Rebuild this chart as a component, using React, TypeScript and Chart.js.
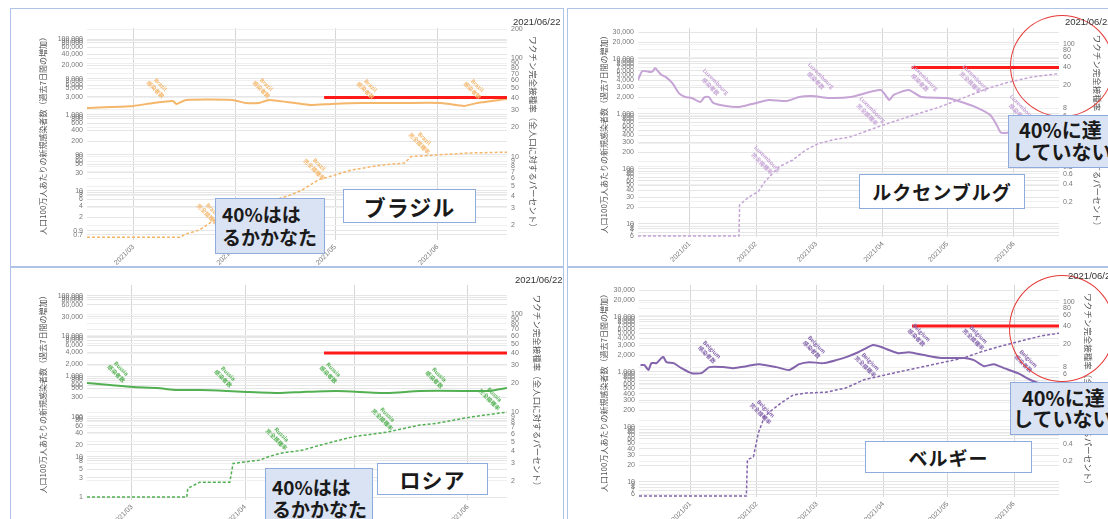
import React, { useEffect, useRef } from 'react';
import { Chart, registerables } from 'chart.js';
Chart.register(...registerables);

// ---- shared axis data (days counted from 2020-12-01) ----
const MONTH_DAYS = [31, 62, 90, 121, 151, 182];
const MONTH_LABELS = ['2021/01', '2021/02', '2021/03', '2021/04', '2021/05', '2021/06'];
const LEFT_TITLE = '人口100万人あたりの新規感染者数（過去7日間の増加）';
const RIGHT_TITLE = 'ワクチン完全接種率（全人口に対するパーセント）';
const DATE_TEXT = '2021/06/22';
const LABEL_KINDS = ['感染者数', '完全接種率'];
const TARGET_PCT = 40;

// ---- Brazil ----
const brazilCaseDays = [76, 90, 96, 102, 103, 106, 120, 124, 128, 131, 141, 144, 150, 159, 171, 183, 190, 194, 203];
const brazilCaseValues = [1530, 1730, 2070, 2330, 1950, 2480, 2480, 2070, 2070, 2480, 1950, 1830, 1950, 2070, 2070, 2070, 1730, 2070, 2630];
const brazilVaxDays = [76, 104, 106, 110, 114, 120, 130, 137, 141, 146, 149, 156, 165, 172, 174, 182, 192, 203];
const brazilVaxValues = [1.5, 1.5, 1.63, 1.78, 2.2, 2.8, 3.4, 4.0, 4.55, 5.8, 6.2, 7.3, 8.2, 8.6, 10.0, 10.4, 10.9, 11.1];
const brazilLeftTicks = [100000, 90000, 80000, 60000, 40000, 20000, 9000, 8000, 6000, 5000, 3000, 1000, 900, 800, 600, 400, 200, 90, 80, 60, 50, 30, 10, 9, 8, 6, 4, 2, 0.9, 0.7];
const brazilRightTicks = [200, 100, 90, 80, 70, 60, 50, 40, 30, 20, 10, 9, 8, 7, 6, 5, 4, 3, 2];
const brazilLabelDays = [97.5, 129.5, 161, 193.3, 113.2, 145.5, 177.3];
const brazilLabelValues = [5460, 5460, 5140, 5140, 2.8, 42.8, 207];
const brazilLabelKinds = [0, 0, 0, 0, 1, 1, 1];

// ---- Luxembourg ----
const luxCaseDays = [7, 9, 13, 14, 15, 17.5, 20, 23, 26, 29, 32, 36, 38, 40, 42, 48, 54, 60, 68, 76, 82, 88, 96, 106, 120, 124, 126, 133, 139, 151, 159, 165, 171, 174, 176, 181, 190, 203];
const luxCaseValues = [4070, 5940, 5700, 5940, 6730, 5200, 4600, 3590, 2360, 2000, 1920, 1620, 2000, 2000, 1560, 1370, 1320, 1490, 1760, 1690, 2000, 2080, 1920, 2000, 2680, 1760, 2180, 2680, 2000, 1920, 1560, 1270, 940, 620, 450, 450, 400, 360];
const luxVaxDays = [7, 54, 54.3, 56, 58.5, 63, 66, 72.5, 79, 85, 91, 97.6, 106, 120, 135, 147, 159, 170, 179, 190, 203];
const luxVaxValues = [0.052, 0.052, 0.178, 0.2, 0.24, 0.3, 0.44, 0.79, 1.04, 1.54, 2.0, 2.3, 2.6, 4.0, 6.1, 8.3, 12.3, 17.6, 22.2, 27.3, 31.6];
const luxLeftTicks = [30000, 20000, 10000, 9000, 8000, 7000, 6000, 5000, 4000, 3000, 2000, 1000, 900, 800, 700, 600, 500, 400, 300, 200, 100, 90, 80, 70, 60, 50, 40, 30, 20, 10, 9, 8, 7, 6];
const luxRightTicks = [100, 80, 60, 40, 20, 8, 6, 4, 2, 1, 0.8, 0.6, 0.4, 0.2];
const luxLabelDays = [42, 91, 139.5, 185, 163, 115, 66];
const luxLabelValues = [3445, 4430, 4080, 1160, 4080, 1067, 137];
const luxLabelKinds = [0, 0, 0, 0, 1, 1, 1];

// ---- Russia ----
const russiaCaseDays = [77.7, 84, 90.3, 96.8, 102.3, 108.6, 116, 121.5, 130.5, 136.8, 146.1, 159.8, 168.9, 184.5, 188, 192.7];
const russiaCaseValues = [683, 608, 542, 517, 458, 458, 434, 410, 386, 410, 434, 386, 434, 434, 434, 513];
const russiaVaxDays = [77.7, 105, 105.3, 108.6, 116.8, 117.7, 125, 127, 130.5, 136.8, 141.5, 150.5, 159.8, 168.9, 173.5, 182.6, 192.7];
const russiaVaxValues = [1.36, 1.36, 1.67, 1.93, 1.93, 3.0, 3.24, 3.47, 3.8, 4.1, 4.6, 5.6, 6.25, 7.4, 7.7, 8.9, 10];
const russiaLeftTicks = [100000, 90000, 80000, 60000, 30000, 10000, 9000, 8000, 6000, 4000, 2000, 1000, 900, 800, 600, 500, 300, 100, 90, 80, 60, 40, 20, 10, 9, 8, 5, 3, 1];
const russiaRightTicks = [200, 100, 90, 80, 70, 60, 50, 40, 30, 20, 10, 9, 8, 7, 6, 5, 4, 3, 2];
const russiaLabelDays = [86.4, 115.7, 144.5, 173.5, 130.3, 159.3, 188.6];
const russiaLabelValues = [1355, 1017, 1280, 960, 31.2, 97.7, 306];
const russiaLabelKinds = [0, 0, 0, 0, 1, 1, 1];

// ---- Belgium ----
const belgiumCaseDays = [7.7, 9.6, 11.4, 12.8, 15.2, 17.5, 18.4, 19.8, 23.1, 26.8, 31.5, 36.1, 39.9, 46.4, 51, 57.1, 63.1, 71.1, 77.1, 81.8, 86.4, 93, 99, 103.7, 109.3, 112.1, 116.3, 120, 127.9, 133, 140, 147.9, 158.7, 163.3, 168, 172.6, 177.3, 183.8, 189.9, 203];
const belgiumCaseValues = [1315, 1315, 1070, 1430, 1430, 1770, 1840, 1490, 1430, 1160, 940, 940, 1210, 1210, 1160, 1260, 1370, 1210, 1070, 1370, 1490, 1430, 1620, 1840, 2250, 2570, 3040, 2800, 2170, 2250, 2000, 1770, 1770, 1620, 1260, 1370, 1160, 940, 700, 460];
const belgiumVaxDays = [7, 57.1, 57.6, 60.4, 62.7, 65.5, 69.2, 73.4, 79, 85, 94.3, 103.7, 112.1, 127.9, 143.3, 158.7, 166.6, 174.5, 183.8, 194.5, 203];
const belgiumVaxValues = [0.052, 0.052, 0.214, 0.24, 0.61, 1.15, 1.51, 1.98, 2.7, 2.9, 3.0, 3.56, 4.9, 6.6, 8.7, 11.5, 14.5, 17.6, 21.5, 27, 30];
const belgiumLeftTicks = [30000, 20000, 10000, 9000, 8000, 7000, 6000, 5000, 4000, 3000, 2000, 1000, 900, 800, 700, 600, 500, 400, 300, 200, 100, 90, 80, 70, 60, 50, 40, 30, 20, 10, 9, 8, 7, 6];
const belgiumRightTicks = [100, 80, 60, 40, 20, 8, 6, 4, 2, 1, 0.8, 0.6, 0.4, 0.2];
const belgiumLabelDays = [39.9, 88.8, 137.7, 187.6, 65, 113.9, 164.3];
const belgiumLabelValues = [2270, 2800, 4620, 1555, 192, 1372, 4260];
const belgiumLabelKinds = [0, 0, 0, 0, 1, 1, 1];

type Panel = {
  name: string;
  left: number; top: number; width: number; height: number;
  padL: number; padR: number; padT: number; wl: number; wr: number; xh: number;
  xMin: number; xMax: number; yMin: number; yMax: number; y1Min: number; y1Max: number;
  leftTicks: number[]; rightTicks: number[];
  color: string;
  caseDays: number[]; caseValues: number[]; vaxDays: number[]; vaxValues: number[];
  redStart: number;
  labelDays: number[]; labelValues: number[]; labelKinds: number[];
};

const PANELS: Panel[] = [
  {
    name: 'Brazil', left: 11, top: 9, width: 551, height: 256,
    padL: 23, padR: 20, padT: 19, wl: 53, wr: 35, xh: 25,
    xMin: 76, xMax: 203, yMin: 0.51, yMax: 195000, y1Min: 1.41, y1Max: 205,
    leftTicks: brazilLeftTicks, rightTicks: brazilRightTicks, color: '#f4b66a',
    caseDays: brazilCaseDays, caseValues: brazilCaseValues, vaxDays: brazilVaxDays, vaxValues: brazilVaxValues,
    redStart: 147.7, labelDays: brazilLabelDays, labelValues: brazilLabelValues, labelKinds: brazilLabelKinds,
  },
  {
    name: 'Luxembourg', left: 569, top: 10, width: 551, height: 256,
    padL: 26, padR: 14, padT: 18, wl: 43, wr: 47, xh: 29,
    xMin: 7, xMax: 203, yMin: 5.7, yMax: 36000, y1Min: 0.05, y1Max: 190,
    leftTicks: luxLeftTicks, rightTicks: luxRightTicks, color: '#c6a4d6',
    caseDays: luxCaseDays, caseValues: luxCaseValues, vaxDays: luxVaxDays, vaxValues: luxVaxValues,
    redStart: 134.4, labelDays: luxLabelDays, labelValues: luxLabelValues, labelKinds: luxLabelKinds,
  },
  {
    name: 'Russia', left: 11, top: 269, width: 551, height: 250,
    padL: 23, padR: 16, padT: 16, wl: 53, wr: 39, xh: 19,
    xMin: 77.7, xMax: 192.7, yMin: 0.85, yMax: 186000, y1Min: 1.27, y1Max: 198,
    leftTicks: russiaLeftTicks, rightTicks: russiaRightTicks, color: '#52b052',
    caseDays: russiaCaseDays, caseValues: russiaCaseValues, vaxDays: russiaVaxDays, vaxValues: russiaVaxValues,
    redStart: 142.6, labelDays: russiaLabelDays, labelValues: russiaLabelValues, labelKinds: russiaLabelKinds,
  },
  {
    name: 'Belgium', left: 569, top: 269, width: 551, height: 250,
    padL: 26, padR: 23, padT: 16, wl: 44, wr: 38, xh: 22,
    xMin: 7, xMax: 203, yMin: 5.3, yMax: 37500, y1Min: 0.05, y1Max: 198,
    leftTicks: belgiumLeftTicks, rightTicks: belgiumRightTicks, color: '#8464ac',
    caseDays: belgiumCaseDays, caseValues: belgiumCaseValues, vaxDays: belgiumVaxDays, vaxValues: belgiumVaxValues,
    redStart: 134.4, labelDays: belgiumLabelDays, labelValues: belgiumLabelValues, labelKinds: belgiumLabelKinds,
  },
];

const TICK_FONT = { family: '"Liberation Sans", Arial, sans-serif', size: 7 };
const TITLE_FONT = { family: '"Noto Sans CJK JP", sans-serif', size: 8 };
const fmt = (v: number) => Number(v).toLocaleString('en-US', { maximumFractionDigits: 2 });

function PanelChart({ p }: { p: Panel }) {
  const ref = useRef<HTMLCanvasElement | null>(null);
  useEffect(() => {
    if (!ref.current) return;
    const labelPlugin = {
      id: 'seriesLabels' + p.name,
      afterDatasetsDraw(chart: any) {
        const ctx = chart.ctx;
        const xs = chart.scales.x;
        const ys = chart.scales.y;
        const size = 5.5;
        ctx.save();
        ctx.font = `bold ${size}px "Noto Sans CJK JP", sans-serif`;
        ctx.fillStyle = p.color;
        ctx.textAlign = 'center';
        ctx.textBaseline = 'middle';
        p.labelDays.forEach((d, i) => {
          const px = xs.getPixelForValue(d);
          const py = ys.getPixelForValue(p.labelValues[i]);
          ctx.save();
          ctx.translate(px, py);
          ctx.rotate(Math.PI / 4);
          ctx.fillText(p.name, 0, -size * 0.65);
          ctx.fillText(LABEL_KINDS[p.labelKinds[i]], 0, size * 0.65);
          ctx.restore();
        });
        ctx.restore();
      },
    };
    const chart = new Chart(ref.current, {
      type: 'line',
      data: {
        datasets: [
          {
            data: [{ x: p.redStart, y: TARGET_PCT }, { x: p.xMax, y: TARGET_PCT }],
            yAxisID: 'y1', borderColor: '#ff1a1a', borderWidth: 3, pointRadius: 0,
          },
          {
            data: p.caseDays.map((d, i) => ({ x: d, y: p.caseValues[i] })),
            yAxisID: 'y', borderColor: p.color, borderWidth: 2, pointRadius: 0, tension: 0.2,
          },
          {
            data: p.vaxDays.map((d, i) => ({ x: d, y: p.vaxValues[i] })),
            yAxisID: 'y1', borderColor: p.color, borderWidth: 1.5, borderDash: [3, 2], pointRadius: 0,
          },
        ],
      } as any,
      options: {
        animation: false,
        responsive: false,
        layout: { padding: { left: p.padL, right: p.padR, top: p.padT, bottom: 0 } },
        plugins: { legend: { display: false }, tooltip: { enabled: false } },
        scales: {
          x: {
            type: 'linear', min: p.xMin, max: p.xMax,
            afterBuildTicks: (s: any) => {
              s.ticks = MONTH_DAYS.filter((d) => d >= p.xMin && d <= p.xMax).map((v) => ({ value: v }));
            },
            afterFit: (s: any) => { s.height = p.xh; },
            ticks: {
              autoSkip: false, maxRotation: 45, minRotation: 45, font: TICK_FONT, color: '#777', padding: 3,
              callback: (v: any) => MONTH_LABELS[MONTH_DAYS.indexOf(Number(v))] ?? '',
            },
            grid: { color: '#d6d6d6', drawTicks: false },
            border: { display: false },
          },
          y: {
            type: 'logarithmic', position: 'left', min: p.yMin, max: p.yMax,
            afterBuildTicks: (s: any) => {
              s.ticks = p.leftTicks.filter((v) => v >= p.yMin && v <= p.yMax).map((v) => ({ value: v }));
            },
            afterFit: (s: any) => { s.width = p.wl; },
            ticks: { autoSkip: false, font: TICK_FONT, color: '#777', padding: 4, callback: (v: any) => fmt(v) },
            grid: { color: '#e6e6e6', drawTicks: false },
            border: { display: false },
            title: { display: true, text: LEFT_TITLE, font: TITLE_FONT, color: '#555', padding: { top: 4, bottom: 4 } },
          },
          y1: {
            type: 'logarithmic', position: 'right', min: p.y1Min, max: p.y1Max,
            afterBuildTicks: (s: any) => {
              s.ticks = p.rightTicks.filter((v) => v >= p.y1Min && v <= p.y1Max).map((v) => ({ value: v }));
            },
            afterFit: (s: any) => { s.width = p.wr; },
            ticks: { autoSkip: false, font: TICK_FONT, color: '#777', padding: 4, callback: (v: any) => fmt(v) },
            grid: { color: '#f0f0f0', drawTicks: false },
            border: { display: false },
            title: { display: true, text: RIGHT_TITLE, font: { ...TITLE_FONT, size: 8.5 }, color: '#555', padding: { top: 4, bottom: 4 } },
          },
        },
      } as any,
      plugins: [labelPlugin],
    });
    return () => chart.destroy();
  }, [p]);
  return (
    <canvas
      ref={ref}
      width={p.width}
      height={p.height}
      style={{ position: 'absolute', left: p.left, top: p.top, width: p.width, height: p.height }}
    />
  );
}

const CJK = '"Noto Sans CJK JP", sans-serif';

function Frame({ left, top, width, height }: { left: number; top: number; width: number; height: number }) {
  return <div style={{ position: 'absolute', left, top, width, height, border: '1.5px solid #aec3e6', boxSizing: 'border-box' }} />;
}

function NameBox({ left, top, width, height, size, text }: any) {
  return (
    <div style={{
      position: 'absolute', left, top, width, height, boxSizing: 'border-box', background: '#fff',
      border: '1.5px solid #8faadc', display: 'flex', alignItems: 'center', justifyContent: 'center',
      fontFamily: CJK, fontWeight: 700, fontSize: size, color: '#1a1a1a', letterSpacing: 1,
    }}>{text}</div>
  );
}

function NoteBox({ left, top, width, height, size, lh, padT, padL, indent, line1, line2 }: any) {
  return (
    <div style={{
      position: 'absolute', left, top, width, height, boxSizing: 'border-box', background: '#dae3f3',
      border: '1.5px solid #8faadc', fontFamily: CJK, fontWeight: 700, fontSize: size, lineHeight: lh + 'px',
      color: '#1a1a1a', paddingTop: padT, paddingLeft: padL, whiteSpace: 'nowrap',
    }}>
      <div style={{ marginLeft: indent }}>{line1}</div>
      <div>{line2}</div>
    </div>
  );
}

function Ring({ left, top, width, height }: any) {
  return <div style={{ position: 'absolute', left, top, width, height, borderRadius: '50%', border: '1.5px solid #e53935', boxSizing: 'border-box' }} />;
}

function DateText({ left, top }: any) {
  return <div style={{ position: 'absolute', left, top, fontFamily: '"Liberation Sans", Arial, sans-serif', fontSize: 9.5, color: '#333', whiteSpace: 'nowrap' }}>{DATE_TEXT}</div>;
}

export default function App() {
  return (
    <div style={{ position: 'fixed', left: 0, top: 0, width: 1108, height: 519, overflow: 'hidden', background: '#fff' }}>
      <Frame left={10} top={8} width={554} height={259} />
      <Frame left={567} top={8} width={560} height={259} />
      <Frame left={10} top={267} width={554} height={270} />
      <Frame left={567} top={267} width={560} height={270} />
      {PANELS.map((p) => <PanelChart key={p.name} p={p} />)}
      <Ring left={1010} top={15} width={104} height={102} />
      <Ring left={1009} top={275} width={106} height={107} />
      <NoteBox left={215} top={198} width={110} height={56} size={19} lh={23} padT={3} padL={6} indent={0} line1="40%はは" line2="るかかなた" />
      <NameBox left={343} top={189} width={133} height={34} size={22} text="ブラジル" />
      <NoteBox left={1008} top={115} width={120} height={53} size={20} lh={22} padT={3} padL={3} indent={7} line1="40%に達" line2="していない" />
      <NameBox left={859} top={174} width={166} height={35} size={19} text="ルクセンブルグ" />
      <NoteBox left={265} top={468} width={108} height={60} size={19} lh={22} padT={7} padL={6} indent={0} line1="40%はは" line2="るかかなた" />
      <NameBox left={377} top={463} width={111} height={32} size={21} text="ロシア" />
      <NoteBox left={1010} top={382} width={120} height={53} size={20} lh={21} padT={4} padL={2} indent={9} line1="40%に達" line2="していない" />
      <NameBox left={865} top={441} width={167} height={32} size={19} text="ベルギー" />
      <DateText left={513} top={16} />
      <DateText left={1065} top={16} />
      <DateText left={515} top={274} />
      <DateText left={1068} top={270} />
    </div>
  );
}
